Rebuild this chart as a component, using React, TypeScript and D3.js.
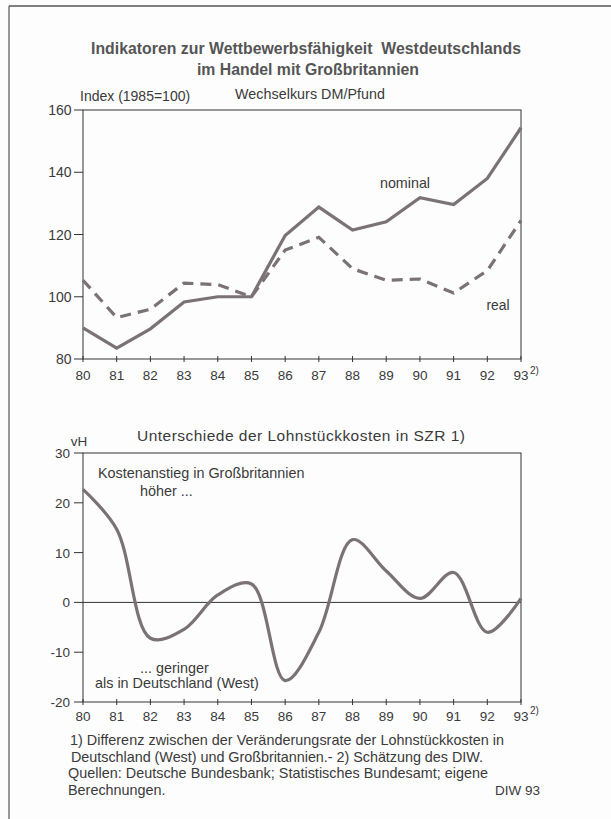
import React from "react";
import * as d3 from "d3";

// Wechselkurs DM/Pfund, Index 1985 = 100
const years = [80, 81, 82, 83, 84, 85, 86, 87, 88, 89, 90, 91, 92, 93];
const nominal = [90, 83.5, 89.7, 98.3, 100, 100, 119.7, 128.8, 121.4, 124.1, 131.8, 129.6, 138, 154.3];
const real = [105.3, 93.3, 96, 104.4, 103.9, 100, 115, 119.1, 109, 105.3, 105.7, 101.2, 108.4, 124.5];
const topTicks = [80, 100, 120, 140, 160];

// Unterschiede der Lohnstueckkosten in SZR, vH
const lohnDiff = [22.7, 14.7, -7.2, -5.4, 1.5, 3.7, -15.7, -6.0, 12.6, 6.3, 0.8, 6.0, -6.0, 0.8];
const bottomTicks = [-20, -10, 0, 10, 20, 30];

const footnotes = [
  "1) Differenz zwischen der Veränderungsrate der Lohnstückkosten in",
  "Deutschland (West) und Großbritannien.- 2) Schätzung des DIW.",
  "Quellen: Deutsche Bundesbank; Statistisches Bundesamt; eigene",
  "Berechnungen.",
];
const footX = [70, 71, 68, 68];
const footLen = [434, 412, 420, 0];

const W = 611;
const H = 819;
const font = "'Liberation Sans', Arial, sans-serif";
const ink = "#3a3a3a";
const lineColor = "#7a7274";

const App = () => {
  const x = d3.scaleLinear().domain([80, 93]).range([83, 521]);
  const yTop = d3.scaleLinear().domain([80, 160]).range([359, 110]);
  const yBot = d3.scaleLinear().domain([-20, 30]).range([702, 453]);

  const topLine = d3
    .line<number>()
    .x((d, i) => x(years[i]))
    .y((d) => yTop(d));
  const botLine = d3
    .line<number>()
    .x((d, i) => x(years[i]))
    .y((d) => yBot(d))
    .curve(d3.curveCatmullRom.alpha(0.5));

  const fmt = (v: number) => (v < 0 ? "-" + Math.abs(v) : String(v));

  return (
    <svg
      width={W}
      height={H}
      style={{ position: "absolute", left: 0, top: 0, background: "#fdfdfd" }}
      fontFamily={font}
    >
      {/* Rahmen */}
      <line x1={9} y1={6} x2={9} y2={H} stroke="#555" strokeWidth={1.2} />
      <line x1={9} y1={6} x2={W} y2={6} stroke="#555" strokeWidth={1.5} />

      {/* Titel */}
      <text
        x={91}
        y={54}
        fontWeight="bold"
        fontSize={15.8}
        fill="#555"
        textLength={430}
        xmlSpace="preserve"
      >
        Indikatoren zur Wettbewerbsfähigkeit  Westdeutschlands
      </text>
      <text x={308} y={75} textAnchor="middle" fontWeight="bold" fontSize={15.8} fill="#555">
        im Handel mit Großbritannien
      </text>

      {/* oberes Diagramm */}
      <text x={235} y={99} fontSize={14.3} fill={ink} textLength={150}>
        Wechselkurs DM/Pfund
      </text>
      <text x={80} y={101} fontSize={14} fill={ink}>
        Index (1985=100)
      </text>
      <g stroke="#333" strokeWidth={1}>
        <rect x={x(80)} y={yTop(160)} width={x(93) - x(80)} height={yTop(80) - yTop(160)} fill="none" />
        {topTicks.map((t) => (
          <line key={t} x1={x(80) - 9} x2={x(80)} y1={yTop(t)} y2={yTop(t)} />
        ))}
        {years.map((yr) => (
          <line key={yr} x1={x(yr)} x2={x(yr)} y1={yTop(80) - 3} y2={yTop(80) + 3} />
        ))}
      </g>
      {topTicks.map((t) => (
        <text key={t} x={71.5} y={yTop(t) + 5} textAnchor="end" fontSize={14} fill={ink}>
          {t}
        </text>
      ))}
      {years.map((yr) => (
        <text key={yr} x={x(yr)} y={380} textAnchor="middle" fontSize={13.5} fill={ink}>
          {yr}
        </text>
      ))}
      <text x={530} y={374} fontSize={10} fill={ink}>
        2)
      </text>
      <path d={topLine(real) || ""} fill="none" stroke={lineColor} strokeWidth={3.2} strokeDasharray="11,7" />
      <path d={topLine(nominal) || ""} fill="none" stroke={lineColor} strokeWidth={3.2} />
      <text x={405} y={188} textAnchor="middle" fontSize={14.3} fill={ink}>
        nominal
      </text>
      <text x={498} y={310} textAnchor="middle" fontSize={13.8} fill={ink}>
        real
      </text>

      {/* unteres Diagramm */}
      <text x={137} y={441} fontSize={15.5} fill={ink} textLength={328}>
        Unterschiede der Lohnstückkosten in SZR 1)
      </text>
      <text x={79} y={446} textAnchor="middle" fontSize={13.5} fill={ink}>
        vH
      </text>
      <g stroke="#333" strokeWidth={1}>
        <rect x={x(80)} y={yBot(30)} width={x(93) - x(80)} height={yBot(-20) - yBot(30)} fill="none" />
        <line x1={x(80)} x2={x(93)} y1={yBot(0)} y2={yBot(0)} />
        {bottomTicks.map((t) => (
          <line key={t} x1={x(80) - 9} x2={x(80)} y1={yBot(t)} y2={yBot(t)} />
        ))}
        {years.map((yr) => (
          <line key={yr} x1={x(yr)} x2={x(yr)} y1={yBot(-20) - 3} y2={yBot(-20) + 3} />
        ))}
      </g>
      {bottomTicks.map((t) => (
        <text key={t} x={70} y={yBot(t) + 5} textAnchor="end" fontSize={13.5} fill={ink}>
          {fmt(t)}
        </text>
      ))}
      {years.map((yr) => (
        <text key={yr} x={x(yr)} y={721} textAnchor="middle" fontSize={13.5} fill={ink}>
          {yr}
        </text>
      ))}
      <text x={530} y={714} fontSize={10} fill={ink}>
        2)
      </text>
      <path d={botLine(lohnDiff) || ""} fill="none" stroke={lineColor} strokeWidth={3.2} />
      <text x={98} y={478} fontSize={14.4} fill={ink}>
        Kostenanstieg in Großbritannien
      </text>
      <text x={140} y={496} fontSize={14.4} fill={ink}>
        höher ...
      </text>
      <text x={140} y={673} fontSize={14.4} fill={ink}>
        ... geringer
      </text>
      <text x={95} y={688} fontSize={14.4} fill={ink}>
        als in Deutschland (West)
      </text>

      {/* Fussnoten */}
      {footnotes.map((f, i) => (
        <text
          key={i}
          x={footX[i]}
          y={745 + i * 16.5}
          fontSize={14.4}
          fill={ink}
          textLength={footLen[i] || undefined}
        >
          {f}
        </text>
      ))}
      <text x={540} y={794.5} textAnchor="end" fontSize={13.5} fill={ink}>
        DIW 93
      </text>
    </svg>
  );
};

export default App;
